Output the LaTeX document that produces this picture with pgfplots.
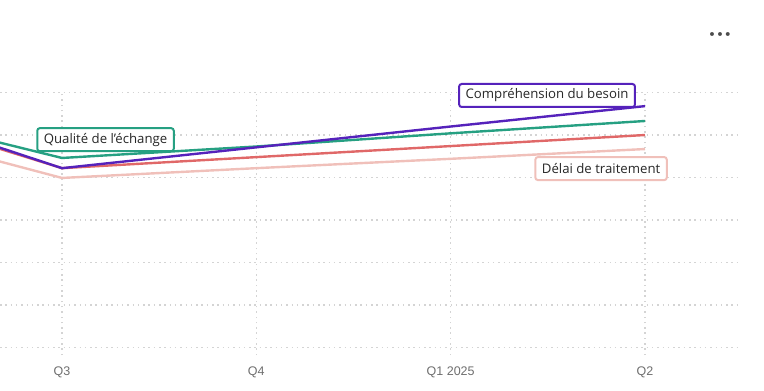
\documentclass[border=0pt]{standalone}
\usepackage{pgfplots}
\pgfplotsset{compat=1.18}
\usepackage{fontspec}
\setmainfont{Open Sans}
\newfontfamily\tickfont{Liberation Sans}
\newfontfamily\symfont{DejaVu Sans}
\definecolor{cPurple}{RGB}{85,34,187}
\definecolor{cGreen}{RGB}{38,160,130}
\definecolor{cRed}{RGB}{224,104,104}
\definecolor{cPink}{RGB}{240,192,186}
\definecolor{cGrid}{RGB}{212,212,212}
\definecolor{cTick}{RGB}{110,110,110}
\definecolor{cText}{RGB}{40,40,40}
\begin{document}
\begin{tikzpicture}
\path[use as bounding box] (0,0) rectangle (764pt,391pt);
\node[text=black!70, font=\symfont\fontsize{13.5}{13.5}\selectfont, inner sep=0pt] at (720pt,355.3pt) {•••};
\begin{axis}[
  at={(0pt,35.85pt)}, anchor=south west,
  scale only axis, width=738pt, height=263.9pt,
  xmin=-0.319, xmax=3.4786, ymin=-0.18, ymax=6.03,
  clip mode=individual,
  axis line style={draw=none},
  major tick length=0pt,
  xtick={0,1,2,3},
  xticklabels={Q3,Q4,Q1 2025,Q2},
  ytick={0,1,2,3,4,5,6},
  yticklabels={},
  xmajorgrids, ymajorgrids,
  grid style={cGrid, line width=1.3pt, dash pattern=on 1.5pt off 3.8pt},
  xticklabel style={anchor=base, yshift=-20pt, text=cTick, font=\tickfont\fontsize{12.5}{12.5}\selectfont},
  every axis plot/.append style={line width=2.4pt, line join=round},
]
\addplot[cPink] coordinates {(-1,5.20) (0,3.99) (1,4.22) (2,4.44) (3,4.67)};
\addplot[cRed] coordinates {(-1,5.64) (0,4.22) (1,4.48) (2,4.74) (3,5.00)};
\addplot[cGreen] coordinates {(-1,5.59) (0,4.46) (1,4.73) (2,5.04) (3,5.33)};
\addplot[cPurple] coordinates {(-1,5.73) (0,4.22) (1,4.71) (2,5.20) (3,5.68)};
\tikzset{lbl/.style={draw=#1, fill=white, line width=2pt, rounded corners=2.5pt, text=cText, font=\fontsize{13.2}{13.2}\selectfont, inner xsep=6.5pt, minimum height=23pt}}
\node[lbl=cPurple] at (axis cs:2.496,5.93) {Compréhension du besoin};
\node[lbl=cPink] at (axis cs:2.774,4.21) {Délai de traitement};
\node[lbl=cGreen] at (axis cs:0.224,4.89) {Qualité de l'échange};
\end{axis}
\end{tikzpicture}
\end{document}
